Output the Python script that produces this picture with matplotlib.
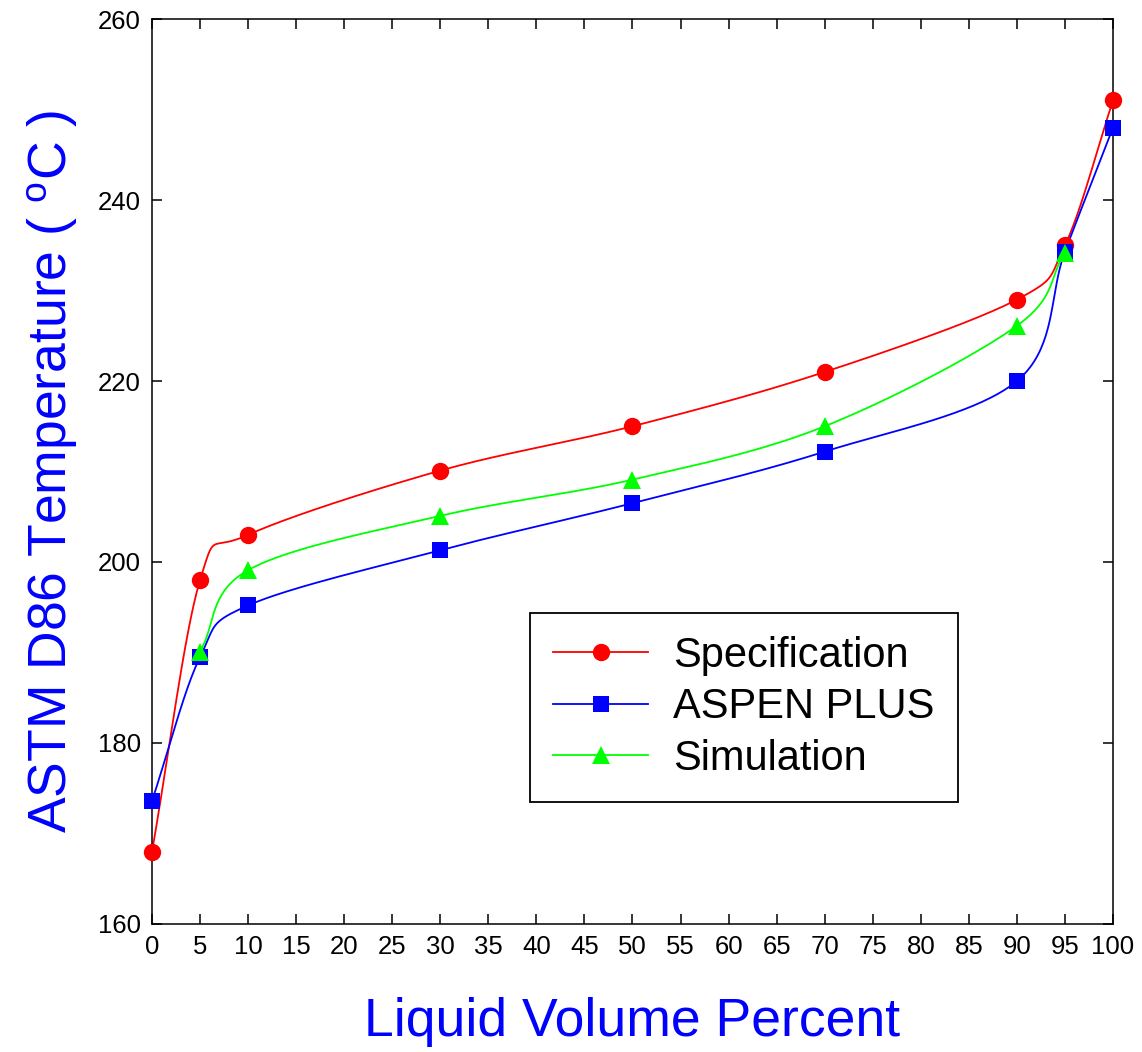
import matplotlib
matplotlib.use("Agg")
import matplotlib.pyplot as plt
import numpy as np

plt.rcParams['font.family'] = ['Liberation Sans', 'DejaVu Sans']
plt.rcParams['mathtext.fontset'] = 'custom'
plt.rcParams['mathtext.rm'] = 'Liberation Sans'
plt.rcParams['mathtext.it'] = 'Liberation Sans:italic'

# data
volume = [0, 5, 10, 30, 50, 70, 90, 95, 100]
spec_temp = [168.0, 198.0, 203.0, 210.1, 215.0, 221.0, 229.0, 235.0, 251.0]
aspen_temp = [173.6, 189.5, 195.2, 201.3, 206.5, 212.2, 220.0, 234.3, 248.0]
sim_volume = [5, 10, 30, 50, 70, 90, 95]
sim_temp = [190.1, 199.1, 205.1, 209.1, 215.0, 226.1, 234.2]


# parametric Catmull-Rom through the points (done in roughly screen-scaled units)
def spline_curve(x, y, n=40, sx=9.61, sy=9.05):
    p = np.column_stack([np.asarray(x, float) * sx, np.asarray(y, float) * sy])
    m = np.zeros_like(p)
    m[1:-1] = (p[2:] - p[:-2]) / 2
    m[0] = p[1] - p[0]
    m[-1] = p[-1] - p[-2]
    t = np.linspace(0, 1, n)[:, None]
    h00 = 2 * t**3 - 3 * t**2 + 1
    h10 = t**3 - 2 * t**2 + t
    h01 = -2 * t**3 + 3 * t**2
    h11 = t**3 - t**2
    segs = []
    for i in range(len(p) - 1):
        segs.append(h00 * p[i] + h10 * m[i] + h01 * p[i + 1] + h11 * m[i + 1])
    c = np.vstack(segs)
    return c[:, 0] / sx, c[:, 1] / sy


fig = plt.figure(figsize=(11.42, 10.52), dpi=100)
ax = fig.add_axes([0.1331, 0.1217, 0.8415, 0.8602])

series = [
    (volume, spec_temp, '#ff0000', 'o', 12.5, 'Specification'),
    (volume, aspen_temp, '#0000ff', 's', 11, 'ASPEN PLUS'),
    (sim_volume, sim_temp, '#00ff00', '^', 12.5, 'Simulation'),
]
for xs, ys, col, mk, ms, lab in series:
    cx, cy = spline_curve(xs, ys)
    ax.plot(cx, cy, color=col, lw=1.3, clip_on=False)
    ax.plot(xs, ys, linestyle='none', marker=mk, markersize=ms, color=col,
            markeredgewidth=0, clip_on=False, zorder=3)
    ax.plot([], [], color=col, lw=1.3, marker=mk, markersize=ms,
            markeredgewidth=0, label=lab)

ax.set_xlim(0, 100)
ax.set_ylim(160, 260)
ax.set_xticks(np.arange(0, 101, 5))
ax.set_yticks(np.arange(160, 261, 20))
ax.tick_params(direction='in', length=7, width=1.1, labelsize=18.5,
               top=True, right=True, pad=8)
for s in ax.spines.values():
    s.set_linewidth(1.1)

ax.set_xlabel('Liquid Volume Percent', fontsize=38.5, color='#0000ff', labelpad=27)
ax.set_ylabel(r'ASTM D86 Temperature ( $^{\mathrm{o}}$C )', fontsize=38.5,
              color='#0000ff', labelpad=13)

leg = ax.legend(loc='lower left', bbox_to_anchor=(0.393, 0.1348), fontsize=30,
                frameon=True, fancybox=False, edgecolor='black', framealpha=1,
                handlelength=2.3, handletextpad=0.6, labelspacing=0.28,
                borderpad=0.55, borderaxespad=0)
leg.get_frame().set_linewidth(1.3)

fig.savefig('out.png', dpi=100)
